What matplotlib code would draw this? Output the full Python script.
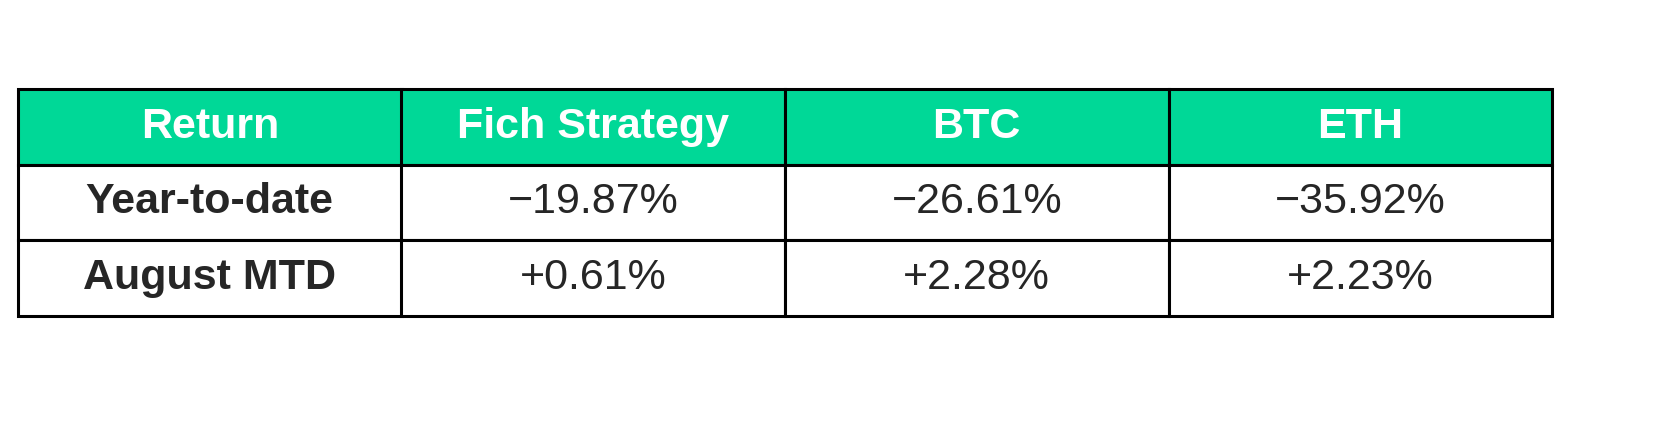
import matplotlib
matplotlib.use('Agg')
import matplotlib.pyplot as plt

plt.rcParams['font.family'] = ['Liberation Sans', 'DejaVu Sans']

# table contents
col_labels = ['Return', 'Fich Strategy', 'BTC', 'ETH']
row_labels = ['Year-to-date', 'August MTD']
fich = ['\u221219.87%', '+0.61%']
btc = ['\u221226.61%', '+2.28%']
eth = ['\u221235.92%', '+2.23%']

header_color = '#00D897'
text_color = '#262626'

W, H = 1663, 428
fig = plt.figure(figsize=(W / 100, H / 100), dpi=100)
ax = fig.add_axes([0, 0, 1, 1])
ax.axis('off')

cells = [[row_labels[i], fich[i], btc[i], eth[i]] for i in range(len(row_labels))]

x0, x1 = 18, 1552
y0, y1 = 89, 316
tbl = ax.table(cellText=cells, colLabels=col_labels, cellLoc='center',
               bbox=[x0 / W, (H - y1) / H, (x1 - x0) / W, (y1 - y0) / H])
tbl.auto_set_font_size(False)

for (r, c), cell in tbl.get_celld().items():
    cell.set_linewidth(2.2)
    cell.set_edgecolor('black')
    txt = cell.get_text()
    txt.set_fontsize(31)
    if r == 0:
        cell.set_facecolor(header_color)
        txt.set_color('white')
        txt.set_fontweight('bold')
    else:
        cell.set_facecolor('white')
        txt.set_color(text_color)
        if c == 0:
            txt.set_fontweight('bold')

fig.savefig('out.png', dpi=100)
